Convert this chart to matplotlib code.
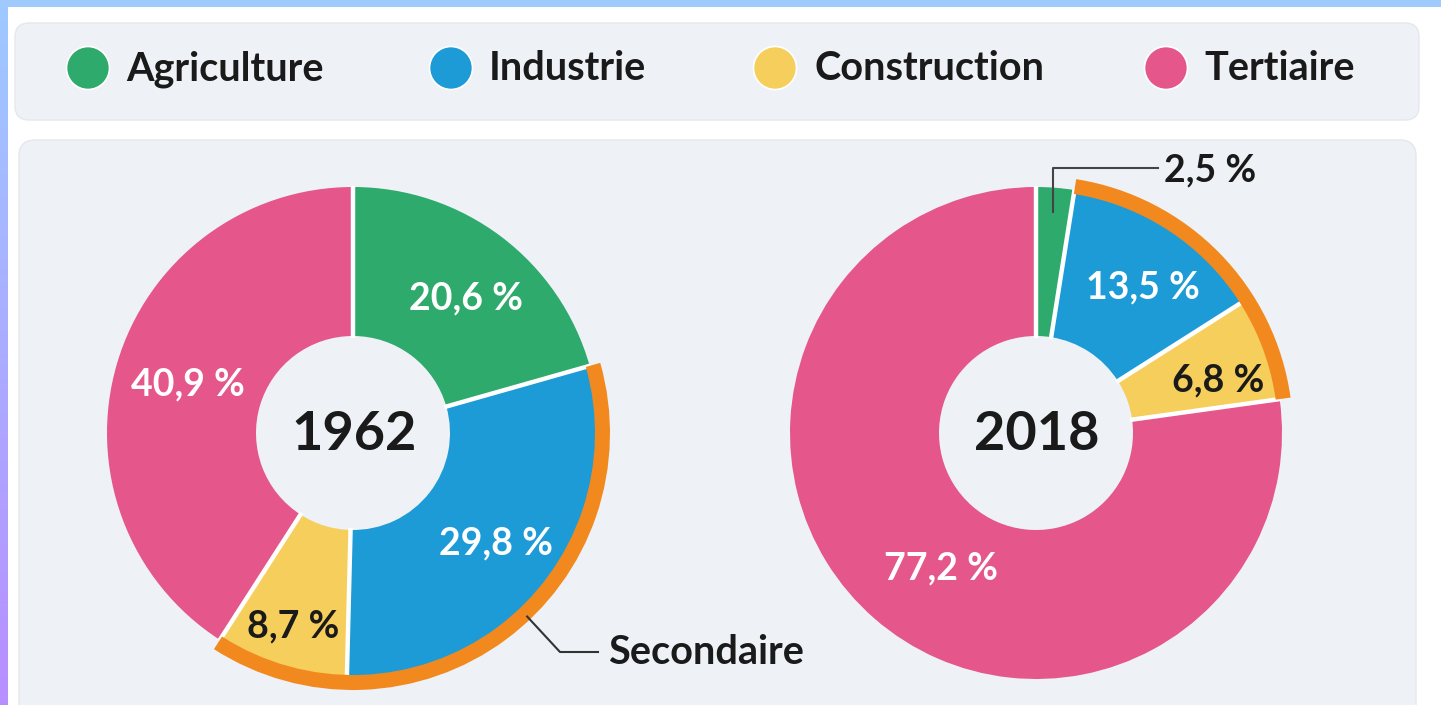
import numpy as np
import matplotlib
matplotlib.use("Agg")
import matplotlib.pyplot as plt
from matplotlib.patches import Wedge, FancyBboxPatch, Circle

# ---------------- data ----------------
categories = ["Agriculture", "Industrie", "Construction", "Tertiaire"]
years = ["1962", "2018"]
shares_1962 = [20.6, 29.8, 8.7, 40.9]
shares_2018 = [2.5, 13.5, 6.8, 77.2]
labels_1962 = ["20,6 %", "29,8 %", "8,7 %", "40,9 %"]
labels_2018 = ["2,5 %", "13,5 %", "6,8 %", "77,2 %"]
secondary_members = ["Industrie", "Construction"]
secondary_label = "Secondaire"

# ---------------- style ----------------
colors = ["#2EAA6C", "#1D9BD7", "#F5CE5B", "#E5568A"]
label_colors = ["white", "white", "#1a1a1a", "white"]
orange = "#F2891F"
panel = "#EEF2F6"
dark = "#1a1a1a"
FONT = ["Lato", "DejaVu Sans"]

W, H = 1441, 705
fig = plt.figure(figsize=(W / 100, H / 100), dpi=100)
fig.patch.set_facecolor("white")
ax = fig.add_axes([0, 0, 1, 1])


def Y(y):
    return H - y


# border gradients
grad = np.linspace(0, 1, 256).reshape(-1, 1)
c_top = np.array([0.62, 0.79, 1.0])
c_bot = np.array([0.72, 0.56, 1.0])
img = c_top[None, None, :] * (1 - grad[:, :, None]) + c_bot[None, None, :] * grad[:, :, None]
ax.imshow(img, extent=(0, 8, 0, H), aspect="auto", zorder=0)
ax.add_patch(plt.Rectangle((0, Y(7)), W, 7, color="#A0C9FE", lw=0, zorder=0.5))

# panels
ax.add_patch(FancyBboxPatch((15, Y(120)), 1404, 97,
                            boxstyle="round,pad=0,rounding_size=14",
                            fc=panel, ec="#e4e8ec", lw=1, zorder=1))
ax.add_patch(FancyBboxPatch((19, Y(730)), 1397, 590,
                            boxstyle="round,pad=0,rounding_size=16",
                            fc=panel, ec="#e4e8ec", lw=1, zorder=1))

# legend
leg_cx = [88, 451, 775, 1166]
leg_tx = [126, 489, 814, 1204]
for c, name, cx, tx in zip(colors, categories, leg_cx, leg_tx):
    ax.add_patch(Circle((cx, Y(68)), 21.5, fc=c, ec="white", lw=1.2, zorder=3))
    ax.text(tx, Y(69), name, fontsize=28.5, fontweight="bold", family=FONT,
            color=dark, ha="left", va="center", zorder=3)

R_out, R_in = 246, 97
centers = [(353, 433), (1036, 433)]
label_r = [[176, 181, 202, 172], [None, 181, 190, 166]]
label_dth = [[3, 0, 0, 0], [0, 3, 4, -6]]


def donut(shares, labels, year, center, lr, ldth):
    cx, cy = center[0], Y(center[1])
    ax.pie(shares, colors=colors, startangle=90, counterclock=False,
           radius=R_out, center=(cx, cy),
           wedgeprops=dict(width=R_out - R_in, linewidth=0), frame=True)
    cum = np.concatenate([[0], np.cumsum(shares)]) * 3.6  # clockwise degrees from top
    # white separators
    for th in cum[:-1]:
        a = np.deg2rad(90 - th)
        ax.plot([cx + (R_in - 2) * np.cos(a), cx + (R_out + 1) * np.cos(a)],
                [cy + (R_in - 2) * np.sin(a), cy + (R_out + 1) * np.sin(a)],
                color="white", lw=3.2, solid_capstyle="butt", zorder=4)
    # orange secondary arc
    i0 = categories.index(secondary_members[0])
    i1 = categories.index(secondary_members[-1])
    t_start, t_end = cum[i0], cum[i1 + 1]
    ax.add_patch(Wedge((cx, cy), R_out + 11, 90 - t_end, 90 - t_start,
                       width=15, fc=orange, ec="none", zorder=5))
    # labels
    for k, (lab, r) in enumerate(zip(labels, lr)):
        if r is None:
            continue
        mid = (cum[k] + cum[k + 1]) / 2 + ldth[k]
        a = np.deg2rad(90 - mid)
        ax.text(cx + r * np.cos(a), cy + r * np.sin(a), lab, fontsize=27,
                fontweight="bold", family=FONT, color=label_colors[k],
                ha="center", va="center", zorder=6)
    ax.text(cx + 1, cy - 2, year, fontsize=39, fontweight="bold", family=FONT,
            color=dark, ha="center", va="center", zorder=6)
    return cum


cum62 = donut(shares_1962, labels_1962, years[0], centers[0], label_r[0], label_dth[0])
cum18 = donut(shares_2018, labels_2018, years[1], centers[1], label_r[1], label_dth[1])

# leader for 2,5 %
cx, cy = centers[1][0], Y(centers[1][1])
mid = (cum18[0] + cum18[1]) / 2
a = np.deg2rad(90 - mid)
px, py = cx + 222 * np.cos(a), cy + 222 * np.sin(a)
ax.plot([px, px, 1158], [py, Y(168), Y(168)], color="#444444", lw=1.5, zorder=7)
ax.text(1164, Y(170), labels_2018[0], fontsize=27, fontweight="bold", family=FONT,
        color=dark, ha="left", va="center", zorder=7)

# leader for Secondaire
cx, cy = centers[0][0], Y(centers[0][1])
a = np.deg2rad(90 - 136.5)
px, py = cx + 253 * np.cos(a), cy + 253 * np.sin(a)
ax.plot([px, 560, 598], [py, Y(652), Y(652)], color="#333333", lw=1.5, zorder=7)
ax.text(608, Y(653), secondary_label, fontsize=28.5, fontweight="bold", family=FONT,
        color=dark, ha="left", va="center", zorder=7)

ax.set_xlim(0, W)
ax.set_ylim(0, H)
ax.set_aspect("auto")
ax.axis("off")
fig.savefig("out.png", dpi=100, facecolor="white")
